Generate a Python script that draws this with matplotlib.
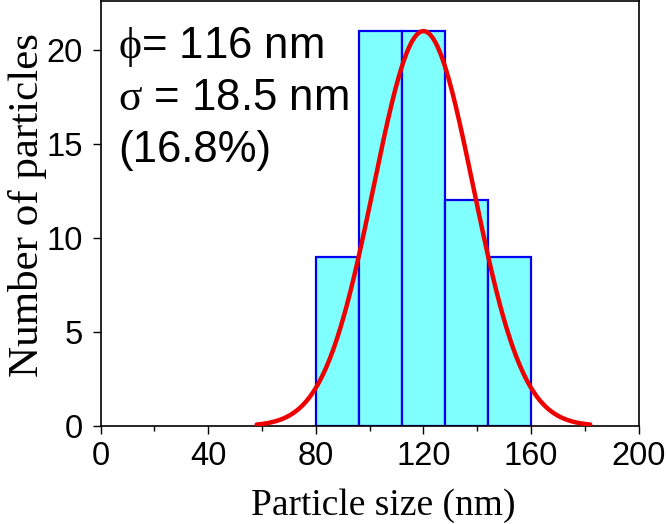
import matplotlib
matplotlib.use("Agg")
import matplotlib.pyplot as plt
import numpy as np

# Histogram data
bin_edges = [80, 96, 112, 128, 144, 160]
counts = [9, 21, 21, 12, 9]

# Gaussian fit parameters
fit_center = 120.0
fit_sigma = 18.5
fit_amplitude = 21.0
fit_range = (58, 182)

xticks = [0, 40, 80, 120, 160, 200]
xminor = [20, 60, 100, 140, 180]
yticks = [0, 5, 10, 15, 20]
annot_lines = [r"$\phi$= 116 nm", r"$\sigma$ = 18.5 nm", "(16.8%)"]

plt.rcParams['mathtext.fontset'] = 'custom'
plt.rcParams['mathtext.it'] = 'Liberation Serif'
plt.rcParams['mathtext.rm'] = 'Liberation Serif'

fig = plt.figure(figsize=(6.66, 5.24), dpi=100)
ax = fig.add_axes([0.151, 0.187, 0.808, 0.811])

lefts = bin_edges[:-1]
widths = np.diff(bin_edges)
ax.bar(lefts, counts, width=widths, align='edge', color='#80FFFF',
       edgecolor='#0000EE', linewidth=1.6, zorder=2)

xs = np.linspace(fit_range[0], fit_range[1], 400)
ys = fit_amplitude * np.exp(-(xs - fit_center) ** 2 / (2 * fit_sigma ** 2))
ax.plot(xs, ys, color='#EE0000', linewidth=3.2, zorder=3, solid_capstyle='round')

ax.set_xlim(0, 200)
ax.set_ylim(0, 22.6)
ax.set_xticks(xticks)
ax.set_xticks(xminor, minor=True)
ax.set_yticks(yticks)
ax.tick_params(axis='both', which='major', direction='out', length=6, width=1.0,
               labelsize=23.5)
ax.tick_params(axis='x', which='major', pad=4.5)
ax.tick_params(axis='y', which='major', pad=7)
ax.tick_params(axis='x', which='minor', direction='out', length=3.5, width=1.0)
for lab in ax.get_xticklabels() + ax.get_yticklabels():
    lab.set_fontfamily('Liberation Sans')
for s in ax.spines.values():
    s.set_linewidth(1.2)

ax.set_xlabel("Particle size (nm)", fontfamily='Liberation Serif', fontsize=27)
ax.set_ylabel("Number of particles", fontfamily='Liberation Serif', fontsize=31)
ax.xaxis.set_label_coords(0.525, -0.146)
ax.yaxis.set_label_coords(-0.10, 0.521)

ys_text = [0.866, 0.744, 0.621]
for t, yy in zip(annot_lines, ys_text):
    ax.text(0.032, yy, t, transform=ax.transAxes, fontsize=31.5,
            fontfamily='Liberation Sans', va='baseline', ha='left')

fig.savefig("out.png", dpi=100)
